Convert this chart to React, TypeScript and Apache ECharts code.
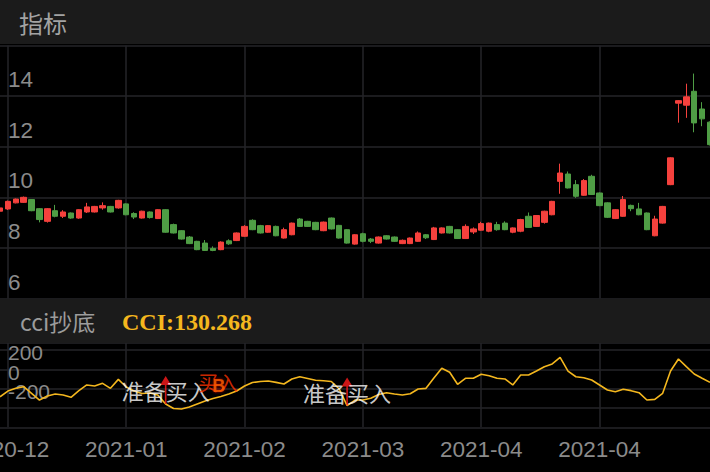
import { useEffect, useRef } from "react";
import * as echarts from "echarts";

const dates = [
  "2020-12-29", "2020-12-30", "2020-12-31", "2021-01-04", "2021-01-05", "2021-01-06", "2021-01-07", "2021-01-08",
  "2021-01-11", "2021-01-12", "2021-01-13", "2021-01-14", "2021-01-15", "2021-01-18", "2021-01-19", "2021-01-20",
  "2021-01-21", "2021-01-22", "2021-01-25", "2021-01-26", "2021-01-27", "2021-01-28", "2021-01-29", "2021-02-01",
  "2021-02-02", "2021-02-03", "2021-02-04", "2021-02-05", "2021-02-08", "2021-02-09", "2021-02-10", "2021-02-18",
  "2021-02-19", "2021-02-22", "2021-02-23", "2021-02-24", "2021-02-25", "2021-02-26", "2021-03-01", "2021-03-02",
  "2021-03-03", "2021-03-04", "2021-03-05", "2021-03-08", "2021-03-09", "2021-03-10", "2021-03-11", "2021-03-12",
  "2021-03-15", "2021-03-16", "2021-03-17", "2021-03-18", "2021-03-19", "2021-03-22", "2021-03-23", "2021-03-24",
  "2021-03-25", "2021-03-26", "2021-03-29", "2021-03-30", "2021-03-31", "2021-04-01", "2021-04-02", "2021-04-06",
  "2021-04-07", "2021-04-08", "2021-04-09", "2021-04-12", "2021-04-13", "2021-04-14", "2021-04-15", "2021-04-16",
  "2021-04-19", "2021-04-20", "2021-04-21", "2021-04-22", "2021-04-23", "2021-04-26", "2021-04-27", "2021-04-28",
  "2021-04-29", "2021-04-30", "2021-05-06", "2021-05-07", "2021-05-10", "2021-05-11", "2021-05-12", "2021-05-13",
  "2021-05-14", "2021-05-17", "2021-05-18",
];

const openPrice = [
  9.45, 9.54, 9.78, 9.80, 9.91, 9.55, 9.05, 9.47, 9.25, 9.38, 9.18, 9.42, 9.42, 9.58, 9.64, 9.58,
  9.74, 9.36, 9.18, 9.42, 9.16, 9.51, 8.92, 8.68, 8.43, 8.26, 8.19, 7.98, 7.93, 8.28, 8.29, 8.46,
  9.09, 8.88, 8.62, 8.85, 8.39, 8.52, 9.14, 9.05, 9.01, 8.68, 9.18, 8.89, 8.72, 8.15, 8.56, 8.35,
  8.19, 8.48, 8.43, 8.17, 8.17, 8.26, 8.52, 8.33, 8.59, 8.85, 8.72, 8.37, 8.63, 8.70, 8.66, 8.92,
  8.98, 8.62, 8.66, 9.25, 8.85, 9.01, 9.31, 10.63, 10.92, 10.50, 10.08, 10.83, 10.17, 9.78, 9.16, 9.25,
  9.68, 9.54, 9.38, 8.48, 8.98, 10.50, 13.72, 13.64, 14.19, 13.49, 12.97,
];
const closePrice = [
  9.58, 9.84, 9.93, 10.00, 9.47, 9.12, 9.55, 9.25, 9.42, 9.18, 9.51, 9.62, 9.64, 9.67, 9.42, 9.88,
  9.31, 9.22, 9.45, 9.20, 9.51, 8.62, 8.59, 8.35, 8.17, 7.93, 7.90, 7.90, 8.23, 8.16, 8.59, 8.85,
  8.72, 8.59, 8.88, 8.48, 8.72, 8.98, 8.85, 8.85, 8.72, 9.02, 8.75, 8.39, 8.19, 8.52, 8.26, 8.26,
  8.43, 8.35, 8.26, 8.30, 8.39, 8.59, 8.40, 8.79, 8.79, 8.59, 8.37, 8.85, 8.75, 8.96, 8.98, 8.72,
  8.72, 8.79, 9.12, 8.81, 9.28, 9.45, 9.84, 10.96, 10.37, 10.04, 10.66, 10.11, 9.67, 9.21, 9.51, 9.91,
  9.55, 9.31, 8.72, 9.14, 9.64, 11.56, 13.82, 13.97, 12.94, 13.10, 12.08,
];
const lowPrice = [
  9.42, 9.50, 9.76, 9.78, 9.45, 9.01, 9.00, 9.21, 9.18, 9.15, 9.15, 9.38, 9.40, 9.51, 9.40, 9.55,
  9.29, 9.14, 9.16, 9.16, 9.14, 8.60, 8.57, 8.33, 8.15, 7.91, 7.88, 7.87, 7.91, 8.12, 8.27, 8.44,
  8.70, 8.57, 8.60, 8.46, 8.37, 8.50, 8.83, 8.83, 8.70, 8.66, 8.73, 8.37, 8.17, 8.13, 8.22, 8.19,
  8.17, 8.33, 8.24, 8.15, 8.15, 8.24, 8.35, 8.31, 8.57, 8.57, 8.35, 8.35, 8.55, 8.68, 8.62, 8.68,
  8.70, 8.58, 8.62, 8.79, 8.83, 8.96, 9.29, 10.14, 10.35, 9.98, 10.06, 10.09, 9.65, 9.18, 9.14, 9.23,
  9.45, 9.29, 8.70, 8.46, 8.96, 10.48, 12.95, 13.14, 12.57, 12.81, 12.05,
];
const highPrice = [
  9.60, 9.87, 9.95, 10.03, 9.93, 9.57, 9.57, 9.70, 9.49, 9.40, 9.53, 9.78, 9.66, 9.80, 9.66, 9.90,
  9.76, 9.41, 9.47, 9.44, 9.53, 9.53, 8.96, 8.70, 8.47, 8.28, 8.31, 8.06, 8.26, 8.34, 8.61, 8.90,
  9.13, 8.91, 8.90, 8.88, 8.80, 9.00, 9.18, 9.07, 9.03, 9.04, 9.20, 8.91, 8.74, 8.54, 8.60, 8.39,
  8.45, 8.50, 8.45, 8.33, 8.41, 8.65, 8.55, 8.83, 8.81, 8.87, 8.74, 8.93, 8.81, 9.03, 9.00, 9.03,
  9.05, 8.81, 9.15, 9.40, 9.30, 9.47, 9.86, 11.33, 11.02, 10.68, 10.72, 10.89, 10.19, 9.80, 9.53, 10.05,
  9.71, 9.78, 9.40, 9.27, 9.66, 11.58, 13.84, 14.49, 14.89, 13.76, 13.00,
];

const cciValues = [
  -284, -225, -197, -180, -248, -318, -276, -256, -266, -290, -221, -162, -173, -145, -197, -104,
  -183, -225, -250, -245, -266, -359, -406, -411, -390, -359, -328, -302, -282, -256, -225, -173,
  -137, -126, -121, -135, -152, -100, -77, -95, -114, -118, -126, -204, -375, -318, -318, -300,
  -261, -242, -256, -266, -253, -204, -197, -90, 10, -31, -155, -93, -93, -52, -66, -93,
  -100, -162, -59, -59, -18, 27, 55, 124, -18, -77, -87, -111, -162, -214, -232, -207,
  -221, -242, -318, -311, -248, -18, 107, 27, -49, -93, -135,
];

const prepareBuyIdx = [21, 44];
const buyIdx = [28];
const panelTitle = "指标";
const cciTitle = "cci抄底";
const cciValueText = "CCI:130.268";
const prepareLabel = "准备买入";
const buyLabel = "买入";
const buyMark = "B";

const UP = "#f5413d";
const DOWN = "#4f9d45";
const GOLD = "#f4b71e";
const GRID = "#242428";
const LABEL = "#8b8b8b";
const LATIN = "'Liberation Sans', Arial, sans-serif";
const CJK = "'Noto Sans CJK SC', 'Liberation Sans', sans-serif";

const splitEvery = (i: number) => i % 15 === 1;

export default function App() {
  const ref = useRef<HTMLDivElement>(null);
  useEffect(() => {
    const chart = echarts.init(ref.current!, null, { renderer: "svg" });
    const candles = dates.map((_, i) => [openPrice[i], closePrice[i], lowPrice[i], highPrice[i]]);
    const arrowPath = "path://M5.5 0 L11 9 L6.3 9 L6.3 28 L4.7 28 L4.7 9 L0 9 Z";
    chart.setOption({
      animation: false,
      backgroundColor: "#000000",
      graphic: [
        { type: "rect", shape: { x: 0, y: 0, width: 710, height: 44 }, style: { fill: "#1b1b1b" }, z: 10 },
        {
          type: "text", x: 19, y: 22, z: 11,
          style: { text: panelTitle, fill: "#a3a3a3", font: `24px ${CJK}`, verticalAlign: "middle", textVerticalAlign: "middle" },
        },
        { type: "rect", shape: { x: 0, y: 299, width: 710, height: 44 }, style: { fill: "#1b1b1b" }, z: 10 },
        {
          type: "text", x: 20, y: 321, z: 11,
          style: { text: cciTitle, fill: "#9c9c9c", font: `23px ${CJK}`, verticalAlign: "middle", textVerticalAlign: "middle" },
        },
        {
          type: "text", x: 122, y: 322, z: 11,
          style: { text: cciValueText, fill: GOLD, font: `bold 24px 'Liberation Serif', 'DejaVu Serif', serif`, verticalAlign: "middle", textVerticalAlign: "middle" },
        },
      ],
      grid: [
        { left: 0, right: 0, top: 45.5, height: 253, outerBoundsMode: "none", containLabel: false },
        { left: 0, right: 0, top: 343, height: 84.3, outerBoundsMode: "none", containLabel: false },
      ],
      xAxis: [
        {
          type: "category", gridIndex: 0, data: dates, boundaryGap: false,
          axisLine: { show: false }, axisTick: { show: false }, axisLabel: { show: false },
          splitLine: { show: true, interval: splitEvery, lineStyle: { color: GRID, width: 1.5 } },
        },
        {
          type: "category", gridIndex: 1, data: dates, boundaryGap: false,
          axisLine: { show: false }, axisTick: { show: false },
          axisLabel: {
            interval: splitEvery, formatter: (v: string) => v.slice(0, 7),
            color: LABEL, fontSize: 22.5, fontFamily: LATIN, margin: 11,
          },
          splitLine: { show: true, interval: splitEvery, lineStyle: { color: GRID, width: 1.5 } },
        },
      ],
      yAxis: [
        {
          type: "value", gridIndex: 0, min: 6, max: 16, interval: 2,
          axisLine: { show: false }, axisTick: { show: false },
          axisLabel: {
            inside: true, showMaxLabel: false, verticalAlign: "bottom", padding: [0, 0, 5, 0],
            color: LABEL, fontSize: 22.5, fontFamily: LATIN, margin: 8,
          },
          splitLine: { lineStyle: { color: GRID, width: 1.5 } },
        },
        {
          type: "value", gridIndex: 1, min: -600, max: 272, interval: 200,
          axisLine: { show: false }, axisTick: { show: false },
          axisLabel: {
            inside: true, verticalAlign: "top", lineHeight: 6,
            formatter: (v: number) => (v >= -200 && v <= 200 ? String(v) : ""),
            color: LABEL, fontSize: 21, fontFamily: LATIN, margin: 8,
          },
          splitLine: { lineStyle: { color: GRID, width: 1.5 } },
        },
      ],
      series: [
        {
          type: "candlestick", xAxisIndex: 0, yAxisIndex: 0, data: candles, barWidth: 6,
          itemStyle: { color: UP, color0: DOWN, borderColor: UP, borderColor0: DOWN, borderWidth: 1 },
        },
        {
          type: "line", xAxisIndex: 1, yAxisIndex: 1, data: cciValues, symbol: "none",
          lineStyle: { color: GOLD, width: 1.6 },
        },
        {
          type: "scatter", xAxisIndex: 1, yAxisIndex: 1, z: 5,
          data: prepareBuyIdx.map((i) => [i, cciValues[i]]),
          symbol: arrowPath, symbolSize: [11, 28], symbolOffset: [0, -14],
          itemStyle: { color: "#ff1c1c" },
          label: { show: true, position: "inside", formatter: prepareLabel, color: "#ffffff", fontSize: 22, fontFamily: CJK },
        },
        {
          type: "scatter", xAxisIndex: 1, yAxisIndex: 1, z: 6,
          data: buyIdx.map((i) => [i, cciValues[i]]),
          symbolSize: 1, itemStyle: { color: "rgba(0,0,0,0)" },
          label: { show: true, position: "inside", offset: [-3, -14], formatter: buyLabel, color: "#ff3300", fontSize: 20, fontFamily: CJK },
        },
        {
          type: "scatter", xAxisIndex: 1, yAxisIndex: 1, z: 7,
          data: buyIdx.map((i) => [i, cciValues[i]]),
          symbolSize: 1, itemStyle: { color: "rgba(0,0,0,0)" },
          label: {
            show: true, position: "inside", offset: [-2, -11], formatter: buyMark, color: "#ff5a00",
            fontSize: 18, fontWeight: "bold", fontFamily: LATIN, textShadowColor: "#d00000", textShadowBlur: 3,
          },
        },
      ],
    });
    return () => chart.dispose();
  }, []);
  return <div ref={ref} style={{ position: "absolute", left: 0, top: 0, width: 710, height: 472 }} />;
}
